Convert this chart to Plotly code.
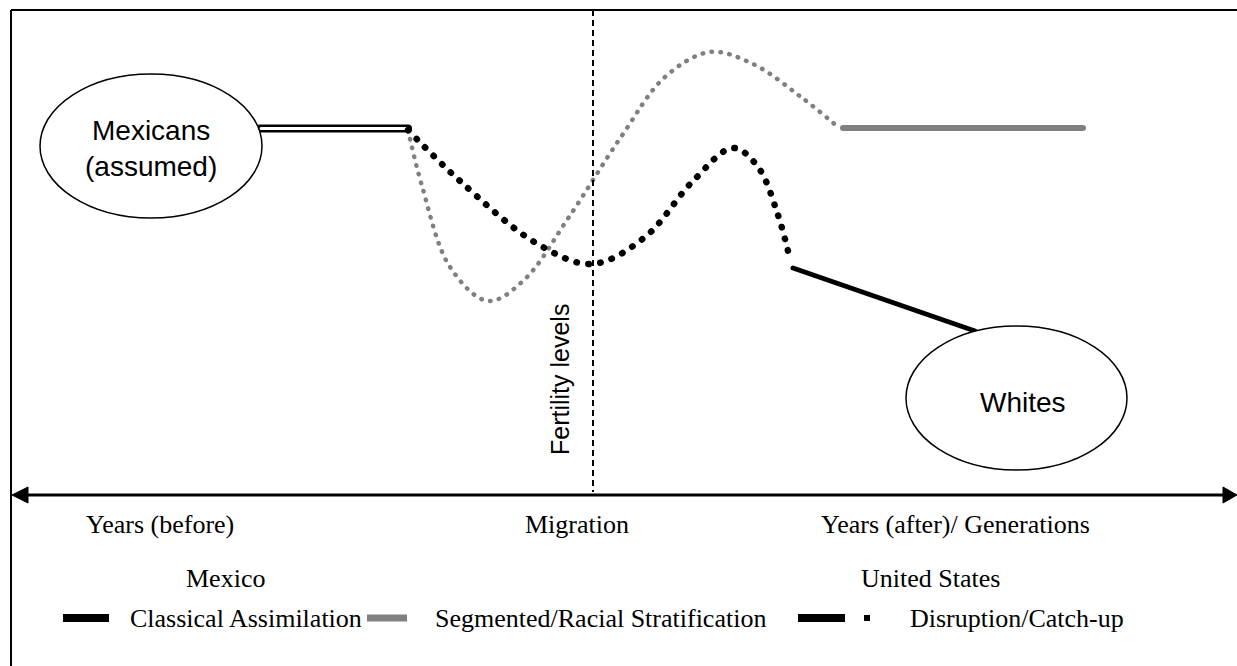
import plotly.graph_objects as go

# ---- data (diagram geometry in image pixel units) ----
W, H = 1237, 666
double_x = [260, 408]
double_y = [128.5, 128.5]
disrupt_x = [408, 460, 536, 592, 645, 693, 733, 758, 777, 790]
disrupt_y = [130, 181, 243, 264, 237, 181, 148, 167, 212, 259]
classical_x = [793, 975]
classical_y = [268, 331]
segmented_dot_x = [408, 422, 450, 488, 524, 569, 621, 665, 710, 753, 801, 838]
segmented_dot_y = [130, 186, 267, 301, 280, 217, 137, 77, 52, 64, 97, 127]
segmented_x = [843, 1083]
segmented_y = [128, 128]
migration_x = 593
axis_y = 495

axis_labels = ["Years (before)", "Migration", "Years (after)/ Generations"]
axis_label_x = [160, 577, 955]
country_labels = ["Mexico", "United States"]
country_label_x = [225, 930]
legend_labels = ["Classical Assimilation", "Segmented/Racial Stratification", "Disruption/Catch-up"]
legend_text_x = [128, 433, 908]

BLACK = "#000000"
GREY = "#808080"

fig = go.Figure()

# double line (Mexicans assumed)
fig.add_trace(go.Scatter(x=double_x, y=double_y, mode="lines",
                         line=dict(color=BLACK, width=8), hoverinfo="skip"))
fig.add_trace(go.Scatter(x=[double_x[0] + 1, double_x[1] - 2], y=double_y, mode="lines",
                         line=dict(color="white", width=3), hoverinfo="skip"))
# segmented dotted (grey)
fig.add_trace(go.Scatter(x=segmented_dot_x, y=segmented_dot_y, mode="lines",
                         line=dict(color=GREY, width=4.5, dash="0.5px,8.5px", shape="spline"),
                         hoverinfo="skip"))
fig.add_trace(go.Scatter(x=segmented_x, y=segmented_y, mode="lines",
                         line=dict(color=GREY, width=6), hoverinfo="skip"))
# disruption dotted (black)
fig.add_trace(go.Scatter(x=disrupt_x, y=disrupt_y, mode="lines",
                         line=dict(color=BLACK, width=6.5, dash="0.5px,11.5px", shape="spline"),
                         hoverinfo="skip"))
fig.add_trace(go.Scatter(x=classical_x, y=classical_y, mode="lines",
                         line=dict(color=BLACK, width=5), hoverinfo="skip"))

shapes = []
# frame
shapes.append(dict(type="line", x0=11, x1=W + 2, y0=10, y1=10, line=dict(color=BLACK, width=2)))
shapes.append(dict(type="line", x0=11, x1=11, y0=10, y1=H + 2, line=dict(color=BLACK, width=2)))
# migration dashed line
shapes.append(dict(type="line", x0=migration_x, x1=migration_x, y0=10, y1=axis_y - 3,
                   line=dict(color=BLACK, width=2, dash="6px,4px")))
# axis
shapes.append(dict(type="line", x0=24, x1=1226, y0=axis_y, y1=axis_y, line=dict(color=BLACK, width=3)))
shapes.append(dict(type="path", path=f"M 12 {axis_y} L 28 {axis_y-8} L 28 {axis_y+8} Z",
                   fillcolor=BLACK, line=dict(color=BLACK, width=1)))
shapes.append(dict(type="path", path=f"M {W} {axis_y} L {W-14} {axis_y-8} L {W-14} {axis_y+8} Z",
                   fillcolor=BLACK, line=dict(color=BLACK, width=1)))
# ellipses
shapes.append(dict(type="circle", x0=40, x1=262, y0=74, y1=218, fillcolor="white",
                   line=dict(color=BLACK, width=1.5), layer="above"))
shapes.append(dict(type="circle", x0=906, x1=1127, y0=326, y1=470, fillcolor="white",
                   line=dict(color=BLACK, width=1.5), layer="above"))
# legend swatches
legend_y = 618
shapes.append(dict(type="rect", x0=63, x1=109, y0=legend_y - 4, y1=legend_y + 4, fillcolor=BLACK, line_width=0))
shapes.append(dict(type="rect", x0=367, x1=407, y0=legend_y - 3.5, y1=legend_y + 3.5, fillcolor=GREY, line_width=0))
shapes.append(dict(type="rect", x0=798, x1=845, y0=legend_y - 4, y1=legend_y + 4, fillcolor=BLACK, line_width=0))
shapes.append(dict(type="rect", x0=864, x1=870, y0=legend_y - 3, y1=legend_y + 3, fillcolor=BLACK, line_width=0))

serif = dict(family="Liberation Serif, Times New Roman, serif", size=26, color=BLACK)
sans = dict(family="Liberation Sans, Arial, sans-serif", size=28, color=BLACK)

ann = []
ann.append(dict(x=151, y=148, text="Mexicans<br>(assumed)", showarrow=False, font=sans,
                xanchor="center", yanchor="middle"))
ann.append(dict(x=1023, y=402, text="Whites", showarrow=False, font=sans,
                xanchor="center", yanchor="middle"))
ann.append(dict(x=560, y=380, text="Fertility levels", showarrow=False, textangle=-90,
                font=dict(family="Liberation Sans, Arial, sans-serif", size=25, color=BLACK),
                xanchor="center", yanchor="middle"))
for t, x in zip(axis_labels, axis_label_x):
    ann.append(dict(x=x, y=524, text=t, showarrow=False, font=serif, xanchor="center", yanchor="middle"))
for t, x in zip(country_labels, country_label_x):
    ann.append(dict(x=x, y=578, text=t, showarrow=False, font=serif, xanchor="center", yanchor="middle"))
for t, x in zip(legend_labels, legend_text_x):
    ann.append(dict(x=x, y=legend_y, text=t, showarrow=False, font=serif, xanchor="left", yanchor="middle"))

fig.update_layout(
    width=W, height=H, margin=dict(l=0, r=0, t=0, b=0),
    paper_bgcolor="white", plot_bgcolor="white", showlegend=False,
    xaxis=dict(range=[0, W], visible=False, fixedrange=True),
    yaxis=dict(range=[H, 0], visible=False, fixedrange=True),
    shapes=shapes, annotations=ann,
)

post = """
document.body.style.margin = '0';
document.body.style.overflow = 'hidden';
var ps = document.querySelectorAll('.scatterlayer path.js-line');
ps.forEach(function(p){ p.style.strokeLinecap = 'round'; });
"""
fig.write_html("out.html", post_script=post, config={"displayModeBar": False})
